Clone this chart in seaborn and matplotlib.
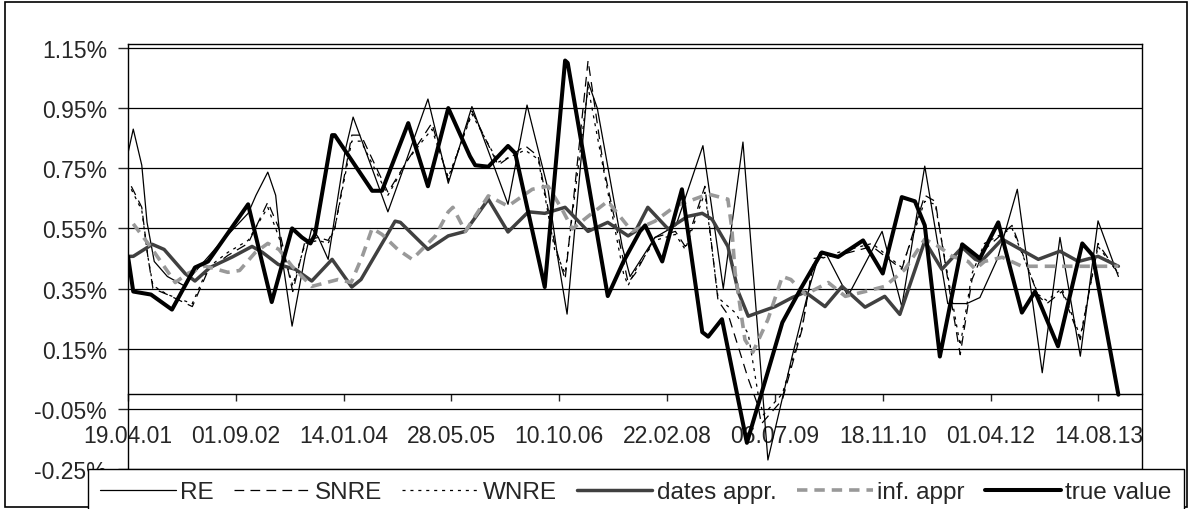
import numpy as np
import pandas as pd
import seaborn as sns
import matplotlib.pyplot as plt
from matplotlib.patches import Rectangle

# Style
sns.set_style("white")
plt.rcParams["font.family"] = ["Liberation Sans", "DejaVu Sans"]
plt.rcParams["lines.scale_dashes"] = False
plt.rcParams["lines.solid_joinstyle"] = "round"
plt.rcParams["lines.dash_joinstyle"] = "round"

# ============================
# DATA  (x = months after 19.04.01, y = value in %)
# ============================
start = pd.Timestamp("2001-04-19")
tick_labels = ["19.04.01", "01.09.02", "14.01.04", "28.05.05", "10.10.06",
               "22.02.08", "06.07.09", "18.11.10", "01.04.12", "14.08.13"]
y_ticks = [-0.25, -0.05, 0.15, 0.35, 0.55, 0.75, 0.95, 1.15]

re_pts = [(0, 0.80), (0.8, 0.88), (2.1, 0.76), (2.9, 0.57), (4.0, 0.44), (6.0, 0.39),
          (8.5, 0.36), (10.0, 0.40), (14.0, 0.50), (18.3, 0.60), (19.5, 0.66),
          (21.3, 0.737), (22.5, 0.66), (23.5, 0.45), (25.0, 0.225), (27.0, 0.46),
          (28.0, 0.55), (29.0, 0.52), (30.5, 0.447), (33.1, 0.81), (34.3, 0.92),
          (36.5, 0.79), (39.6, 0.605), (41.5, 0.72), (45.7, 0.98), (48.8, 0.70),
          (52.4, 0.955), (57.9, 0.63), (60.8, 0.96), (64.0, 0.68), (65.5, 0.45),
          (66.9, 0.265), (70.1, 1.037), (71.5, 0.95), (75.3, 0.49), (76.5, 0.39),
          (80.3, 0.52), (83.5, 0.56), (87.6, 0.825), (90.7, 0.35), (93.7, 0.837),
          (97.5, -0.22), (101.2, 0.125), (103.9, 0.36), (105.4, 0.47), (106.5, 0.46),
          (109.7, 0.325), (114.9, 0.54), (117.9, 0.29), (121.4, 0.757), (124.9, 0.30),
          (127.8, 0.30), (129.8, 0.32), (132.5, 0.45), (135.5, 0.68), (139.3, 0.07),
          (142.0, 0.52), (145.1, 0.125), (147.8, 0.575), (150.9, 0.39)]

snre_pts = [(0.5, 0.69), (2.1, 0.62), (3.0, 0.46), (3.8, 0.35), (6.0, 0.33), (9.8, 0.29),
            (12.2, 0.41), (15.2, 0.46), (18.3, 0.50), (21.3, 0.637), (23.0, 0.55),
            (25.1, 0.34), (27.0, 0.51), (29.0, 0.52), (30.5, 0.51), (31.5, 0.55),
            (34.1, 0.86), (35.5, 0.86), (39.6, 0.67), (42.7, 0.78), (46.3, 0.90),
            (48.8, 0.71), (52.4, 0.94), (56.4, 0.76), (60.5, 0.825), (62.5, 0.79),
            (65.0, 0.50), (66.6, 0.38), (70.1, 1.108), (72.5, 0.75), (76.2, 0.37),
            (77.3, 0.40), (80.3, 0.52), (83.4, 0.54), (84.9, 0.49), (87.9, 0.69),
            (89.9, 0.31), (91.5, 0.26), (94.5, 0.05), (96.0, -0.04), (96.5, -0.10),
            (99.7, -0.02), (102.7, 0.214), (104.5, 0.45), (108.2, 0.46), (113.4, 0.49),
            (117.9, 0.414), (121.4, 0.66), (123.0, 0.64), (125.5, 0.30), (126.8, 0.13),
            (128.6, 0.38), (130.5, 0.48), (134.7, 0.56), (138.7, 0.325), (140.0, 0.30),
            (142.3, 0.34), (145.1, 0.18), (147.8, 0.50), (150.9, 0.40)]

wnre_pts = [(0.5, 0.68), (2.1, 0.61), (3.0, 0.46), (3.8, 0.36), (6.0, 0.33), (8.5, 0.31),
            (9.8, 0.30), (12.2, 0.42), (15.2, 0.47), (18.3, 0.51), (21.3, 0.62),
            (23.0, 0.52), (25.1, 0.36), (27.0, 0.50), (29.0, 0.51), (30.5, 0.50),
            (31.5, 0.55), (34.1, 0.84), (35.5, 0.84), (39.6, 0.66), (42.7, 0.78),
            (46.3, 0.88), (48.8, 0.72), (52.4, 0.93), (56.4, 0.77), (60.5, 0.81),
            (62.5, 0.78), (65.0, 0.48), (66.6, 0.40), (70.1, 1.02), (72.5, 0.74),
            (75.5, 0.40), (76.2, 0.36), (77.3, 0.41), (80.3, 0.51), (83.4, 0.53),
            (84.9, 0.48), (87.9, 0.67), (89.9, 0.32), (92.5, 0.27), (94.5, 0.20),
            (96.0, 0.0), (96.8, -0.07), (99.7, 0.0), (102.7, 0.22), (104.5, 0.44),
            (108.2, 0.47), (113.4, 0.50), (117.9, 0.42), (121.4, 0.64), (123.0, 0.63),
            (125.5, 0.32), (126.8, 0.16), (128.6, 0.40), (130.5, 0.50), (134.7, 0.55),
            (138.7, 0.33), (140.0, 0.31), (142.3, 0.35), (145.1, 0.19), (147.8, 0.49),
            (150.9, 0.40)]

dates_pts = [(0, 0.457), (0.8, 0.457), (3.7, 0.497), (5.5, 0.48), (8.7, 0.40),
             (10.2, 0.375), (12.5, 0.42), (15.9, 0.455), (18.9, 0.49), (20.5, 0.47),
             (22.9, 0.43), (25.5, 0.414), (28.0, 0.375), (31.1, 0.447), (34.1, 0.355),
             (35.5, 0.38), (40.7, 0.574), (41.5, 0.57), (45.7, 0.48), (48.8, 0.525),
             (51.4, 0.54), (54.9, 0.647), (57.9, 0.538), (61.0, 0.605), (63.5, 0.60),
             (66.6, 0.62), (70.1, 0.54), (73.1, 0.57), (76.2, 0.525), (77.3, 0.54),
             (79.2, 0.62), (82.3, 0.548), (85.3, 0.59), (87.5, 0.60), (89.0, 0.58),
             (91.4, 0.49), (93.0, 0.338), (94.5, 0.258), (98.6, 0.29), (101.2, 0.32),
             (103.2, 0.338), (106.2, 0.29), (108.8, 0.357), (112.3, 0.288), (115.3, 0.324),
             (117.6, 0.264), (121.4, 0.508), (124.0, 0.414), (127.1, 0.487), (129.1, 0.447),
             (130.0, 0.44), (133.2, 0.514), (138.7, 0.447), (142.0, 0.474), (144.8, 0.44),
             (147.8, 0.457), (150.9, 0.424)]

inf_pts = [(0.8, 0.565), (3.4, 0.49), (7.2, 0.37), (9.1, 0.40), (11.7, 0.425),
           (15.2, 0.404), (17.0, 0.41), (19.4, 0.47), (21.3, 0.50), (23.0, 0.48),
           (25.0, 0.424), (28.0, 0.357), (32.0, 0.38), (34.0, 0.37), (35.7, 0.457),
           (37.2, 0.55), (38.7, 0.53), (41.1, 0.48), (43.3, 0.447), (46.8, 0.524),
           (48.8, 0.605), (49.5, 0.62), (51.4, 0.54), (54.9, 0.658), (57.9, 0.624),
           (61.6, 0.68), (64.0, 0.69), (66.1, 0.615), (67.7, 0.548), (70.1, 0.59),
           (73.1, 0.64), (76.8, 0.54), (80.3, 0.574), (83.4, 0.624), (88.4, 0.664),
           (91.4, 0.647), (92.0, 0.55), (92.5, 0.404), (94.0, 0.18), (95.2, 0.138),
           (97.5, 0.247), (99.7, 0.39), (101.0, 0.38), (103.2, 0.33), (106.7, 0.37),
           (109.3, 0.324), (112.3, 0.34), (115.3, 0.357), (118.4, 0.414), (121.4, 0.514),
           (123.5, 0.49), (125.6, 0.457), (128.0, 0.44), (129.1, 0.414), (130.5, 0.44),
           (133.2, 0.454), (136.2, 0.424), (150.9, 0.424)]

true_pts = [(0, 0.457), (0.8, 0.34), (3.5, 0.33), (6.7, 0.28), (10.2, 0.42), (12.2, 0.44),
            (18.3, 0.63), (21.9, 0.305), (25.0, 0.55), (26.5, 0.52), (27.8, 0.50),
            (28.5, 0.53), (31.1, 0.86), (31.5, 0.86), (37.2, 0.675), (38.7, 0.675),
            (42.7, 0.90), (45.7, 0.69), (48.8, 0.95), (52.1, 0.79), (52.9, 0.76),
            (54.9, 0.755), (57.9, 0.824), (59.0, 0.80), (63.5, 0.355), (66.6, 1.108),
            (67.0, 1.10), (73.1, 0.325), (75.5, 0.44), (78.0, 0.54), (78.8, 0.56),
            (81.4, 0.44), (84.4, 0.68), (87.5, 0.205), (88.4, 0.19), (90.5, 0.248),
            (94.3, -0.163), (99.7, 0.237), (102.7, 0.357), (105.7, 0.47), (108.2, 0.455),
            (112.0, 0.51), (115.0, 0.40), (117.9, 0.654), (119.9, 0.64), (121.4, 0.56),
            (123.7, 0.124), (127.1, 0.497), (129.8, 0.45), (132.6, 0.57), (136.2, 0.27),
            (138.2, 0.34), (141.7, 0.158), (145.4, 0.50), (147.0, 0.46), (150.9, -0.003)]

# label, points, color, width, linestyle
series = [
    ("RE", re_pts, "black", 0.9, "-"),
    ("SNRE", snre_pts, "black", 0.9, (0, (7, 4.5))),
    ("WNRE", wnre_pts, "black", 0.9, (0, (2.2, 3.5))),
    ("dates appr.", dates_pts, "#404040", 2.5, "-"),
    ("inf. appr", inf_pts, "#999999", 2.6, (0, (7.5, 5))),
    ("true value", true_pts, "black", 2.9, "-"),
]

def to_dates(months):
    return start + pd.to_timedelta(np.asarray(months) * 30.4375, unit="D")

# ============================
# PLOT
# ============================
W, H = 1190, 510
fig = plt.figure(figsize=(W / 100, H / 100), dpi=100)
ax = fig.add_axes([128 / W, (H - 470) / H, (1142 - 128) / W, (470 - 45) / H])

for label, pts, color, lw, ls in series:
    df = pd.DataFrame(pts, columns=["month", "value"])
    df["date"] = to_dates(df["month"])
    sns.lineplot(data=df, x="date", y="value", ax=ax, color=color, linewidth=lw,
                 linestyle=ls, estimator=None, sort=False, label=label)

ax.set_ylim(-0.25, 1.163)
ax.set_xlim(start, to_dates([154.5])[0])
ax.set_yticks(y_ticks)
ax.set_yticklabels([f"{v:.2f}%" for v in y_ticks])
tick_dates = pd.to_datetime(tick_labels, format="%d.%m.%y")
ax.set_xticks(tick_dates)
ax.set_xticklabels(tick_labels)
ax.set_xlabel("")
ax.set_ylabel("")

ax.yaxis.grid(True, color="black", linewidth=0.9)
ax.xaxis.grid(False)
ax.spines["bottom"].set_position(("data", 0))
for s in ["left", "top", "right", "bottom"]:
    ax.spines[s].set_color("black")
    ax.spines[s].set_linewidth(1.0)
ax.tick_params(axis="y", direction="out", length=7.2, width=1, pad=8, labelsize=16.5, left=True)
ax.tick_params(axis="x", direction="out", length=5, width=1, pad=16.5, labelsize=16.5, bottom=True)

handles, labels = ax.get_legend_handles_labels()
ax.get_legend().remove()
leg = fig.legend(handles, labels, ncol=6, loc="upper left",
                 bbox_to_anchor=(88 / W, 40 / H, 1096 / W, 0), mode="expand",
                 frameon=True, fancybox=False, edgecolor="black", fontsize=17.5,
                 handlelength=3.1, handletextpad=0.2, columnspacing=0.7,
                 borderpad=0.5, borderaxespad=0)
leg.get_frame().set_linewidth(1.0)
leg.get_frame().set_alpha(1)

fig.patches.append(Rectangle((5 / W, 2 / H), 1182 / W, 505 / H, transform=fig.transFigure,
                             fill=False, edgecolor="black", linewidth=1.2))

fig.savefig("out.png", dpi=100)
